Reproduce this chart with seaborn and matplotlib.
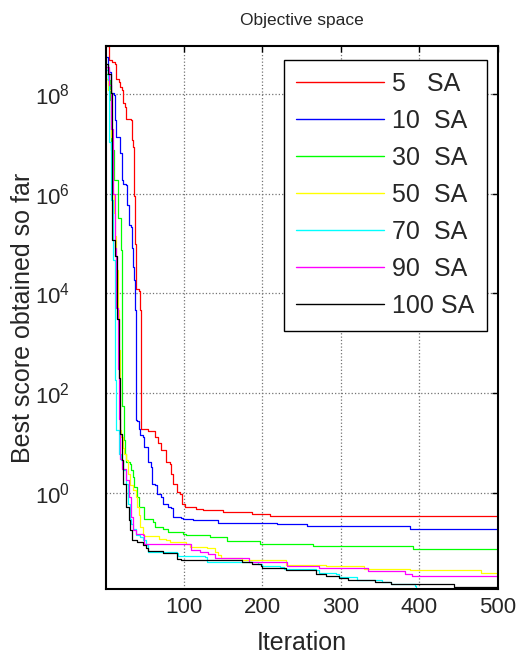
import numpy as np
import pandas as pd
import matplotlib
matplotlib.use("Agg")
import matplotlib.pyplot as plt
import seaborn as sns

# ---------------- data ----------------
series_labels = ["5   SA", "10  SA", "30  SA", "50  SA", "70  SA", "90  SA", "100 SA"]
series_colors = ["#ff0000", "#0000ff", "#00ff00", "#ffff00", "#00ffff", "#ff00ff", "#000000"]

iter_5 = [1, 5, 9, 13, 14, 18, 19, 21, 23, 25, 27, 33, 34, 36, 37, 38, 39, 43, 44, 45,
          55, 63, 67, 71, 77, 83, 84, 86, 91, 95, 98, 101, 116, 125, 150, 187, 210, 500]
score_5 = [9.3e8, 4.9e8, 4.5e8, 4.1e8, 2.0e8, 1.8e8, 1.4e8, 1.2e8, 6.6e7, 5.6e7, 3.2e7, 3.0e7,
           1.2e7, 8.9e6, 9.0e5, 1.0e5, 1.2e4, 1.1e4, 4.6e3, 19.3,
           17.5, 13.0, 9.7, 7.1, 4.1, 3.8, 2.4, 1.5, 1.03, 0.95, 0.60, 0.51, 0.476, 0.44, 0.41,
           0.366, 0.334, 0.334]

iter_10 = [1, 3, 5, 7, 8, 11, 13, 14, 19, 21, 22, 23, 26, 28, 30, 33, 34, 35, 37, 38, 39, 41,
           43, 44, 48, 50, 54, 55, 58, 60, 64, 66, 71, 73, 80, 84, 86, 97, 99, 112, 133, 144,
           219, 257, 388, 500]
score_10 = [5.7e8, 3.1e8, 2.8e8, 2.6e8, 1.05e8, 9.7e7, 3.0e7, 1.4e7, 6.5e6, 6.0e6, 1.9e6, 1.6e6,
            1.5e6, 6.0e5, 2.4e5, 2.2e5, 8.0e4, 3.4e4, 1.9e4, 4.6e3, 28.4, 27.5,
            19.3, 14.2, 13.1, 8.3, 7.1, 4.1, 3.3, 1.5, 1.4, 0.95, 0.82, 0.60, 0.51, 0.48, 0.32,
            0.314, 0.30, 0.286, 0.277, 0.249, 0.231, 0.21, 0.189, 0.189]

iter_30 = [1, 4, 6, 7, 8, 11, 16, 20, 21, 24, 25, 26, 32, 33, 35, 37, 40, 43, 50, 61, 63, 73,
           80, 99, 103, 133, 155, 197, 264, 392, 500]
score_30 = [2.5e8, 1.9e8, 7.7e7, 3.5e7, 7.6e6, 1.9e6, 3.2e5, 7.4e4, 54, 11.3, 6.1, 4.1, 3.8,
            2.8, 2.06, 1.3, 0.82, 0.51, 0.30, 0.257, 0.204, 0.189, 0.161, 0.15, 0.139, 0.128,
            0.105, 0.0914, 0.0833, 0.0748, 0.0748]

iter_50 = [1, 4, 7, 9, 10, 11, 13, 14, 16, 17, 19, 20, 23, 24, 26, 29, 32, 35, 39, 41, 43,
           44, 48, 50, 69, 78, 82, 103, 108, 129, 140, 144, 148, 174, 230, 281, 330, 388, 478,
           500]
score_50 = [2.0e8, 1.2e8, 1.4e7, 3.0e6, 1.0e6, 4.1e5, 1.4e5, 2.9e4, 4.6e3, 720, 18, 13, 7.7,
            6.1, 4.5, 2.4, 1.4, 1.11, 0.82, 0.51, 0.35, 0.20, 0.15, 0.132, 0.119, 0.11, 0.102,
            0.0944, 0.0806, 0.0784, 0.064, 0.055, 0.0493, 0.0436, 0.0346, 0.033, 0.0297,
            0.0274, 0.0247, 0.0247]

iter_70 = [1, 4, 5, 7, 10, 12, 13, 14, 18, 20, 23, 26, 29, 31, 33, 35, 39, 44, 48, 52, 54,
           91, 93, 127, 129, 195, 200, 223, 227, 268, 272, 294, 298, 320, 343, 352, 364, 394,
           396, 500]
score_70 = [3.0e8, 1.9e8, 1.1e7, 7.6e5, 4.7e4, 2.9e3, 180, 18, 6.1, 4.5, 2.8, 1.52, 0.60, 0.30,
            0.238, 0.189, 0.139, 0.128, 0.11, 0.087, 0.064, 0.061, 0.0525, 0.0508, 0.0397,
            0.0374, 0.033, 0.032, 0.0297, 0.0283, 0.0242, 0.0235, 0.0201, 0.0178, 0.0173,
            0.016, 0.0144, 0.0131, 0.0116, 0.0116]

iter_90 = [1, 5, 8, 10, 12, 14, 16, 18, 19, 22, 27, 30, 33, 35, 39, 48, 50, 109, 121, 131,
           140, 183, 232, 272, 335, 382, 390, 500]
score_90 = [3.5e8, 1.5e8, 2.0e7, 1.0e6, 8.0e4, 5.0e3, 300, 30, 4.8, 3.0, 1.77, 0.82, 0.32,
            0.175, 0.15, 0.139, 0.094, 0.072, 0.064, 0.059, 0.0493, 0.0403, 0.0341, 0.0305,
            0.0265, 0.0228, 0.0208, 0.0208]

iter_100 = [1, 4, 8, 9, 13, 15, 17, 19, 21, 23, 26, 27, 30, 32, 34, 41, 48, 52, 54, 73, 91,
            97, 174, 187, 198, 200, 230, 268, 281, 298, 309, 343, 364, 444, 500]
score_100 = [4.0e8, 2.5e8, 1.07e8, 1.2e5, 5.6e4, 3.0e3, 200, 15, 4.5, 1.5, 0.82, 0.51, 0.277,
             0.175, 0.11, 0.102, 0.087, 0.078, 0.067, 0.061, 0.047, 0.0436, 0.0403, 0.0374,
             0.033, 0.031, 0.0274, 0.0228, 0.0208, 0.0196, 0.0173, 0.016, 0.0144, 0.0127,
             0.0127]

x_ticks = [100, 200, 300, 400, 500]
y_ticks = [1e0, 1e2, 1e4, 1e6, 1e8]
y_tick_labels = [r"$10^{0}$", r"$10^{2}$", r"$10^{4}$", r"$10^{6}$", r"$10^{8}$"]

# ---------------- build long table ----------------
all_iters = [iter_5, iter_10, iter_30, iter_50, iter_70, iter_90, iter_100]
all_scores = [score_5, score_10, score_30, score_50, score_70, score_90, score_100]
frames = []
for lab, it, sc in zip(series_labels, all_iters, all_scores):
    frames.append(pd.DataFrame({"Iteration": it, "Score": sc, "Series": lab}))
df = pd.concat(frames, ignore_index=True)

# ---------------- style ----------------
sns.set_style("white")
plt.rcParams["font.family"] = ["Liberation Sans", "DejaVu Sans"]
plt.rcParams["mathtext.default"] = "regular"

fig = plt.figure(figsize=(5.27, 6.64), dpi=100)
W, H = 527, 664
ax = fig.add_axes([106 / W, 1 - 589 / H, 392 / W, 543 / H])

sns.lineplot(data=df, x="Iteration", y="Score", hue="Series", hue_order=series_labels,
             palette=series_colors, estimator=None, drawstyle="steps-post",
             linewidth=0.9, legend=False, ax=ax)

ax.set_yscale("log")
ax.set_xlim(1, 500)
ax.set_ylim(df["Score"].min(), df["Score"].max())

ax.set_xticks(x_ticks)
ax.set_yticks(y_ticks)
ax.set_yticklabels(y_tick_labels)
ax.yaxis.set_minor_locator(matplotlib.ticker.NullLocator())
ax.tick_params(axis="both", which="major", direction="in", length=4, width=1,
               top=True, right=True, labelsize=16, color="black")
ax.tick_params(axis="x", pad=6)
ax.tick_params(axis="y", pad=26)

ax.grid(True, which="major", linestyle=":", color="0.45", linewidth=0.9)
for sp in ax.spines.values():
    sp.set_color("black")
    sp.set_linewidth(1.5)

ax.set_title("Objective space", fontsize=12.5, pad=15)
ax.set_xlabel("Iteration", fontsize=18)
ax.set_ylabel("Best score obtained so far", fontsize=18)
ax.xaxis.set_label_coords(0.5, -0.078)
ax.yaxis.set_label_coords(-0.182, 0.5)

leg = ax.legend(ax.get_lines()[:7], series_labels, loc="upper right",
                bbox_to_anchor=(0.971, 0.975), borderaxespad=0, fontsize=18,
                handlelength=3.5, handletextpad=0.32, labelspacing=0.52,
                borderpad=0.5, fancybox=False, framealpha=1, edgecolor="black")
leg.get_frame().set_linewidth(1.0)
for h in leg.get_lines():
    h.set_linewidth(1.0)

fig.savefig("out.png", dpi=100)
